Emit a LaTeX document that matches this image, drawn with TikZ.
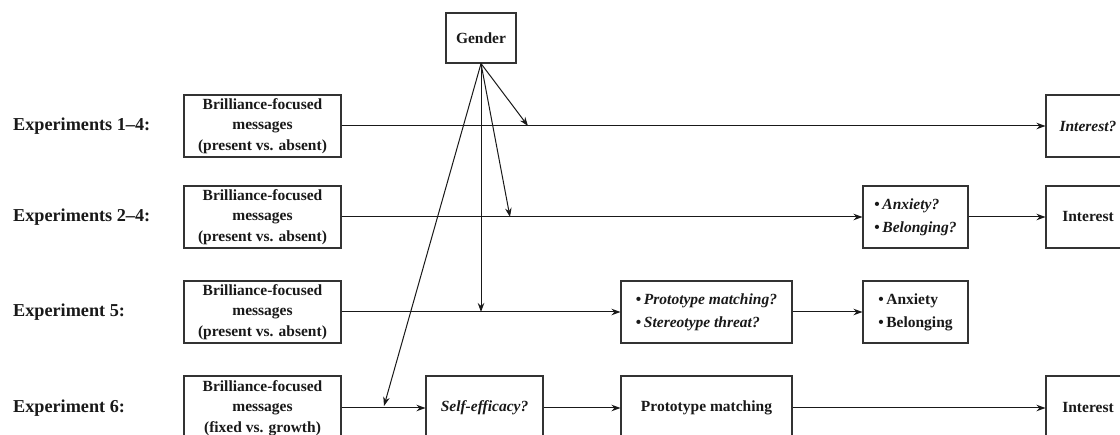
\documentclass[tikz,border=0pt]{standalone}
\usepackage{fontspec}
\setmainfont{Liberation Serif}
\usetikzlibrary{arrows.meta}
\tikzset{
  box/.style={draw=black!80, line width=1.1pt, inner sep=0pt, align=center,
    font=\fontsize{15.5}{20.5}\selectfont\bfseries, text=black!90},
  bulletbox/.style={box, font=\fontsize{15.5}{23}\selectfont\bfseries, align=left},
  explabel/.style={anchor=west, inner sep=0pt, font=\fontsize{18.2}{20}\selectfont\bfseries, text=black!90},
  link/.style={line width=1pt, draw=black!90, -{Stealth[length=9pt,width=6.5pt]}},
  plain/.style={line width=1pt, draw=black!90}
}
\begin{document}
\begin{tikzpicture}[x=1pt,y=-1pt]
\clip (0,0) rectangle (1120,435);
\fill[white] (0,0) rectangle (1120,435);

% labels
\node[explabel] (l1) at (13,126) {Experiments 1--4:};
\node[explabel] (l2) at (13,217) {Experiments 2--4:};
\node[explabel] (l3) at (13,312) {Experiment 5:};
\node[explabel] (l4) at (13,408) {Experiment 6:};

% gender
\node[box, minimum width=70pt, minimum height=50pt] (gender) at (481,38) {Gender};

% row 1
\node[box, minimum width=157pt, minimum height=62pt] (b1) at (262.5,126) {Brilliance-focused\\messages\\(present vs. absent)};
\node[box, minimum width=84pt, minimum height=62pt] (i1) at (1088,126) {\textit{Interest?}};

% row 2
\node[box, minimum width=157pt, minimum height=62pt] (b2) at (262.5,217) {Brilliance-focused\\messages\\(present vs. absent)};
\node[bulletbox, minimum width=105pt, minimum height=62pt] (a2) at (915.5,217) {\textbullet\,\textit{Anxiety?}\\\textbullet\,\textit{Belonging?}};
\node[box, minimum width=84pt, minimum height=62pt] (i2) at (1088,217) {Interest};

% row 3
\node[box, minimum width=157pt, minimum height=62pt] (b3) at (262.5,312) {Brilliance-focused\\messages\\(present vs. absent)};
\node[bulletbox, minimum width=171pt, minimum height=62pt] (p3) at (706.5,312) {\textbullet\,\textit{Prototype matching?}\\\textbullet\,\textit{Stereotype threat?}};
\node[bulletbox, minimum width=105pt, minimum height=62pt] (a3) at (915.5,312) {\textbullet\,Anxiety\\\textbullet\,Belonging};

% row 4
\node[box, minimum width=157pt, minimum height=64pt] (b4) at (262.5,408) {Brilliance-focused\\messages\\(fixed vs. growth)};
\node[box, minimum width=117pt, minimum height=64pt] (s4) at (484.5,408) {\textit{Self-efficacy?}};
\node[box, minimum width=171pt, minimum height=64pt] (p4) at (706.5,408) {Prototype matching};
\node[box, minimum width=84pt, minimum height=64pt] (i4) at (1088,408) {Interest};

% horizontal paths
\draw[link] (b1.east) -- (i1.west);
\draw[link] (b2.east) -- (a2.west);
\draw[link] (a2.east) -- (i2.west);
\draw[link] (b3.east) -- (p3.west);
\draw[link] (p3.east) -- (a3.west);
\draw[link] (b4.east) -- (s4.west);
\draw[link] (s4.east) -- (p4.west);
\draw[link] (p4.east) -- (i4.west);

% gender moderation arrows
\coordinate (g1) at (528,126);
\coordinate (g2) at (510,217);
\coordinate (g3) at (481,312);
\coordinate (g4) at (384,406);
\draw[link] (gender.south) -- (g1);
\draw[link] (gender.south) -- (g2);
\draw[link] (gender.south) -- (g3);
\draw[link] (gender.south) -- (g4);
\end{tikzpicture}
\end{document}
